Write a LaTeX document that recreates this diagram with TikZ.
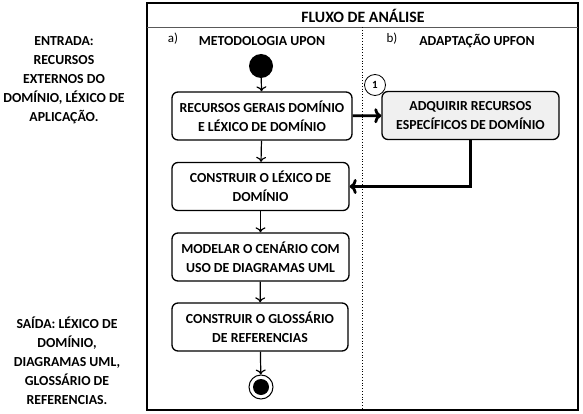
\documentclass[tikz,border=0pt]{standalone}
\usepackage{fontspec}
\setmainfont{Carlito}
\usetikzlibrary{calc}
\usetikzlibrary{shapes,arrows.meta}

\begin{document}
\begin{tikzpicture}[x=1pt,y=-1pt]
     \tikzstyle{every node}=[font=\bfseries\fontsize{13.8}{19}\selectfont,align=center]
     \tikzstyle{activity}=[draw,line width=1.3pt,rounded corners=6pt,minimum width=177pt,minimum height=48pt,inner sep=2pt]
     \tikzstyle{flow}=[-{To[length=5pt,width=10pt]},line width=1.2pt]
     \tikzstyle{bigflow}=[-{To[length=7pt,width=15pt]},line width=2.8pt]
      \useasboundingbox (0,0) rectangle (583,414);
      \coordinate (TL) at (147,3);
      \coordinate (BR) at (578,410);
      \coordinate (HL) at (147,27);
      \coordinate (HR) at (578,27);
      \coordinate (LaneTop) at (362,27);
      \coordinate (LaneBot) at (362,410);
      % frame
      \draw [line width=1.6pt] (TL) rectangle (BR);
      \draw [thin, gray!70!black] (HL) -- (HR);
      \draw [dotted, thick] (LaneTop) -- (LaneBot);
      \node[font=\bfseries\fontsize{15.8}{19}\selectfont] (titulo) at (363,16) {FLUXO DE ANÁLISE};
      \node[font=\fontsize{13}{14}\selectfont] (a) at (173,39) {a)};
      \node (metodologia) at (262,41) {METODOLOGIA UPON};
      \node[font=\fontsize{13}{14}\selectfont] (b) at (392,39) {b)};
      \node (adaptacao) at (477,41) {ADAPTAÇÃO UPFON};
      % side texts
      \node (entrada) at (64,80) {ENTRADA:\\RECURSOS\\EXTERNOS DO\\DOMÍNIO, LÉXICO DE\\APLICAÇÃO.};
      \node (saida) at (67,361) {SAÍDA: LÉXICO DE\\DOMÍNIO,\\DIAGRAMAS UML,\\GLOSSÁRIO DE\\REFERENCIAS.};
      % activities
      \node [circle,fill,minimum size=24pt,inner sep=0pt] (inicio) at (261,66) {};
      \node [activity,minimum width=180pt] (recursos) at (262,116) {RECURSOS GERAIS DOMÍNIO\\E LÉXICO DE DOMÍNIO};
      \node [activity] (construir) at (260.5,186.5) {CONSTRUIR O LÉXICO DE\\DOMÍNIO};
      \node [activity] (modelar) at (260.5,257) {MODELAR O CENÁRIO COM\\USO DE DIAGRAMAS UML};
      \node [activity,minimum width=176pt] (glossario) at (260,327) {CONSTRUIR O GLOSSÁRIO\\DE REFERENCIAS};
      \node [circle,draw,line width=1pt,minimum size=24pt,inner sep=0pt] (fim) at (261,387) {};
      \node [circle,fill,minimum size=16pt,inner sep=0pt] (fimdot) at (fim) {};
      \node [activity,fill=gray!12] (adquirir) at (470.5,115.5) {ADQUIRIR RECURSOS\\ESPECÍFICOS DE DOMÍNIO};
      \node [circle,draw,line width=0.8pt,minimum size=21pt,inner sep=0pt,font=\bfseries\fontsize{11}{12}\selectfont] (um) at (375,85) {1};
      % connectors
      \draw [flow] (inicio) -- (recursos);
      \draw [flow] (recursos) -- (construir);
      \draw [flow] (construir) -- (modelar);
      \draw [flow] (modelar) -- (glossario);
      \draw [flow] (glossario) -- (fim);
      \draw [bigflow] (recursos) -- (adquirir);
      \draw [bigflow] (adquirir.south) |- (construir.east);
    \end{tikzpicture}
\end{document}
